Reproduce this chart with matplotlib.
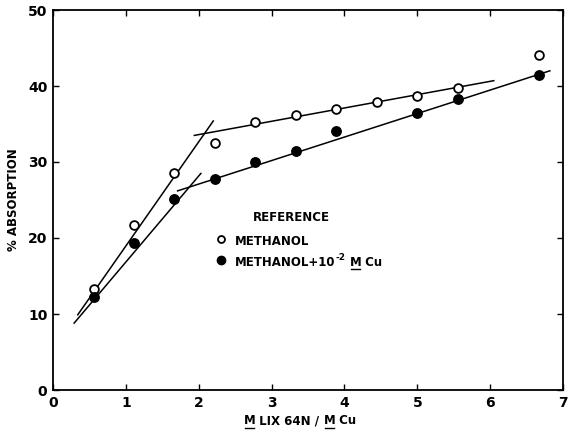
import matplotlib
matplotlib.use("Agg")
import matplotlib.pyplot as plt
from matplotlib.lines import Line2D

plt.rcParams['font.family'] = ['DejaVu Sans']

# Data
x_vals = [0.556, 1.111, 1.667, 2.222, 2.778, 3.333, 3.889, 4.444, 5.0, 5.556, 6.667]
methanol = [13.3, 21.7, 28.5, 32.5, 35.2, 36.2, 37.0, 37.9, 38.7, 39.7, 44.1]
x_cu = [0.556, 1.111, 1.667, 2.222, 2.778, 3.333, 3.889, 5.0, 5.556, 6.667]
methanol_cu = [12.2, 19.4, 25.1, 27.8, 30.0, 31.5, 34.1, 36.5, 38.3, 41.4]

# Fitted straight lines (endpoints)
fit_open_steep_x = [0.34, 2.2]
fit_open_steep_y = [9.9, 35.4]
fit_open_flat_x = [1.94, 6.05]
fit_open_flat_y = [33.5, 40.7]
fit_cu_steep_x = [0.29, 2.03]
fit_cu_steep_y = [8.8, 28.5]
fit_cu_flat_x = [1.71, 6.82]
fit_cu_flat_y = [26.2, 42.0]

xticks = [0, 1, 2, 3, 4, 5, 6, 7]
yticks = [0, 10, 20, 30, 40, 50]

W, H = 569, 433
fig = plt.figure(figsize=(W/100, H/100), dpi=100)
ax = fig.add_axes([53/W, 1 - 390/H, (563-53)/W, (390-10)/H])

lc = 'black'
for xs, ys in [(fit_open_steep_x, fit_open_steep_y), (fit_open_flat_x, fit_open_flat_y),
               (fit_cu_steep_x, fit_cu_steep_y), (fit_cu_flat_x, fit_cu_flat_y)]:
    ax.plot(xs, ys, color=lc, lw=1.1, zorder=2)

ax.plot(x_vals, methanol, 'o', ms=6.3, mfc='white', mec='black', mew=1.3, zorder=3)
ax.plot(x_cu, methanol_cu, 'o', ms=6.8, mfc='black', mec='black', zorder=3)

ax.set_xlim(0, 7)
ax.set_ylim(0, 50)
ax.set_xticks(xticks)
ax.set_yticks(yticks)
ax.tick_params(direction='in', top=True, right=True, length=4, width=1,
               labelsize=10, pad=4)
for lab in ax.get_xticklabels() + ax.get_yticklabels():
    lab.set_fontweight('bold')
for s in ax.spines.values():
    s.set_linewidth(1.3)

ax.set_ylabel('% ABSORPTION', fontsize=8.5, fontweight='bold', labelpad=6)

renderer = fig.canvas.get_renderer()


def rich_text(px, py, parts, fs=8.5, align='left'):
    """parts: list of (text, underline, superscript). px, py in pixels from top-left."""
    widths = []
    for t, ul, sup in parts:
        size = fs * 0.75 if sup else fs
        tmp = fig.text(0, 0, t, fontsize=size, fontweight='bold')
        bb = tmp.get_window_extent(renderer)
        widths.append(bb.width)
        tmp.remove()
    total = sum(widths)
    x0 = px - total / 2 if align == 'center' else px
    ybase = H - py
    x = x0
    for (t, ul, sup), w in zip(parts, widths):
        size = fs * 0.75 if sup else fs
        yy = ybase + (5 if sup else 0)
        fig.text(x / W, yy / H, t, fontsize=size, fontweight='bold',
                 ha='left', va='center')
        if ul:
            fig.add_artist(Line2D([(x + 1) / W, (x + w - 1) / W],
                                  [(ybase - 7) / H, (ybase - 7) / H],
                                  color='black', lw=1.0))
        x += w


# x-axis label
rich_text(300, 421, [('M', True, False), (' LIX 64N / ', False, False),
                     ('M', True, False), (' Cu', False, False)], align='center')

# legend as text
fig.text(253/W, 1 - 217/H, 'REFERENCE', ha='left', va='center', fontsize=8.5, fontweight='bold')
ax.plot([2.3], [19.9], 'o', ms=5, mfc='white', mec='black', mew=1.3, clip_on=False)
ax.plot([2.3], [17.1], 'o', ms=6, mfc='black', mec='black', clip_on=False)
fig.text(235/W, 1 - 241/H, 'METHANOL', ha='left', va='center', fontsize=8.5, fontweight='bold')
rich_text(235, 262, [('METHANOL+10', False, False), ('-2', False, True),
                     (' ', False, False), ('M', True, False), (' Cu', False, False)])

fig.savefig('out.png', dpi=100)
